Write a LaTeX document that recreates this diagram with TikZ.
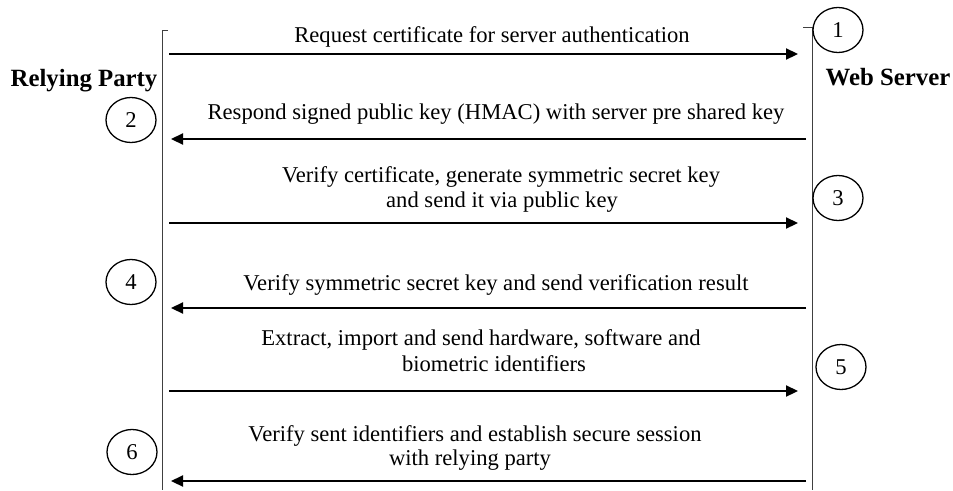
\documentclass[tikz,border=0pt]{standalone}
\usepackage{fontspec}
\setmainfont{Liberation Serif}
\usetikzlibrary{arrows.meta,shapes.geometric}
\begin{document}
\begin{tikzpicture}[x=1pt,y=-1pt,
  lifeline/.style={line width=1pt, black!75},
  msg/.style={line width=2.2pt, -{Triangle[length=12pt,width=11pt]}},
  txt/.style={anchor=base, inner sep=0pt, font=\fontsize{22.6}{26}\selectfont},
  actor/.style={anchor=base, inner sep=0pt, font=\fontsize{24.8}{28}\selectfont\bfseries},
  numc/.style={draw, line width=1.3pt, ellipse, minimum width=50pt, minimum height=45pt, inner sep=0pt, font=\fontsize{22.6}{26}\selectfont}
]
\useasboundingbox (0,0) rectangle (953,490);

% lifelines
\coordinate (LT) at (162,30);
\coordinate (LB) at (162,490);
\coordinate (LK) at (168,30);
\coordinate (RT) at (812,27);
\coordinate (RB) at (812,490);
\coordinate (RK) at (803,27);
\draw[lifeline] (LK) -- (LT) -- (LB);
\draw[lifeline] (RK) -- (RT) -- (RB);

% actors
\node[actor] (rp) at (84,86) {Relying Party};
\node[actor] (ws) at (888,85) {Web Server};

% arrow end coordinates
\coordinate (a1s) at (169,54);  \coordinate (a1e) at (798,54);
\coordinate (a2s) at (806,139); \coordinate (a2e) at (171,139);
\coordinate (a3s) at (169,223); \coordinate (a3e) at (798,223);
\coordinate (a4s) at (806,308); \coordinate (a4e) at (171,308);
\coordinate (a5s) at (169,391); \coordinate (a5e) at (798,391);
\coordinate (a6s) at (806,481); \coordinate (a6e) at (171,481);

\draw[msg] (a1s) -- (a1e);
\draw[msg] (a2s) -- (a2e);
\draw[msg] (a3s) -- (a3e);
\draw[msg] (a4s) -- (a4e);
\draw[msg] (a5s) -- (a5e);
\draw[msg] (a6s) -- (a6e);

% labels
\node[txt] (t1) at (492,42) {Request certificate for server authentication};
\node[txt] (t2) at (496,119) {Respond signed public key (HMAC) with server pre shared key};
\node[txt] (t3a) at (501,182) {Verify certificate, generate symmetric secret key};
\node[txt] (t3b) at (502,207) {and send it via public key};
\node[txt] (t4) at (496,290) {Verify symmetric secret key and send verification result};
\node[txt] (t5a) at (481,345) {Extract, import and send hardware, software and};
\node[txt] (t5b) at (494,371) {biometric identifiers};
\node[txt] (t6a) at (475,441) {Verify sent identifiers and establish secure session};
\node[txt] (t6b) at (470,465) {with relying party};

% step numbers
\node[numc] (c1) at (838,30) {1};
\node[numc] (c2) at (131,120) {2};
\node[numc] (c3) at (838,198) {3};
\node[numc] (c4) at (131,282) {4};
\node[numc] (c5) at (841,367) {5};
\node[numc] (c6) at (132,452) {6};
\end{tikzpicture}
\end{document}
